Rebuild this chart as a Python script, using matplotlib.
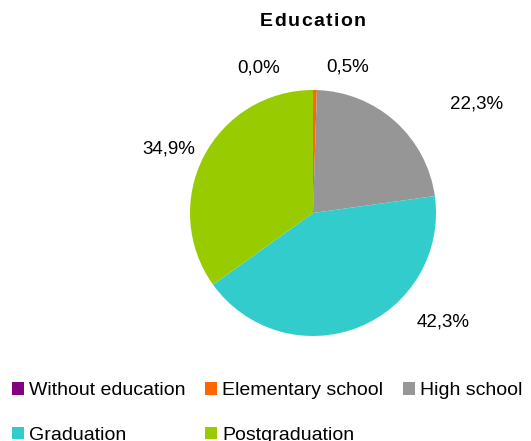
import matplotlib.pyplot as plt
from matplotlib.patches import Patch

plt.rcParams['font.family'] = ['Liberation Sans', 'DejaVu Sans']

categories = ['Without education', 'Elementary school', 'High school',
              'Graduation', 'Postgraduation']
shares = [0.0, 0.5, 22.3, 42.3, 34.9]
colors = ['#800080', '#FF6600', '#969696', '#33CCCC', '#99CC00']

# label positions in pie radii, relative to the pie centre
label_pos = [(-0.44, 1.18), (0.28, 1.19), (1.33, 0.89), (1.06, -0.89), (-1.17, 0.52)]

W, H = 531, 441
cx, cy, r = 313, 213, 123

fig = plt.figure(figsize=(W / 100, H / 100), dpi=100)
ax = fig.add_axes([0, 0, 1, 1])

ax.pie(shares, colors=colors, startangle=90, counterclock=False,
       radius=1, wedgeprops=dict(linewidth=0))
ax.set_xlim(-cx / r, (W - cx) / r)
ax.set_ylim(-(H - cy) / r, cy / r)
ax.axis('off')

for v, (x, y) in zip(shares, label_pos):
    ax.text(x, y, f'{v:.1f}%'.replace('.', ','), ha='center', va='center',
            fontsize=13.5, color='black')

# spaced-out bold title, one letter at a time
title = 'Education'
fig.canvas.draw()
rend = fig.canvas.get_renderer()
widths = []
for ch in title:
    t = fig.text(0, 0, ch, fontsize=14, fontweight='bold')
    widths.append(t.get_window_extent(rend).width)
    t.remove()
gap = 1.4
total = sum(widths) + gap * (len(title) - 1)
x = cx - total / 2
for ch, w in zip(title, widths):
    fig.text(x / W, 1 - 22 / H, ch, ha='left', va='center',
             fontsize=14, fontweight='bold')
    x += w + gap

handles = [Patch(facecolor=c, edgecolor='none') for c in colors]
order = [0, 3, 1, 4, 2]
fig.legend([handles[i] for i in order], [categories[i] for i in order],
           ncol=3, loc='upper left', bbox_to_anchor=(12 / W, 1 - 382 / H),
           frameon=False, fontsize=14, handlelength=0.62, handleheight=0.62,
           handletextpad=0.26, columnspacing=1.0, labelspacing=1.42,
           borderpad=0, borderaxespad=0)

fig.savefig('out.png', dpi=100)
